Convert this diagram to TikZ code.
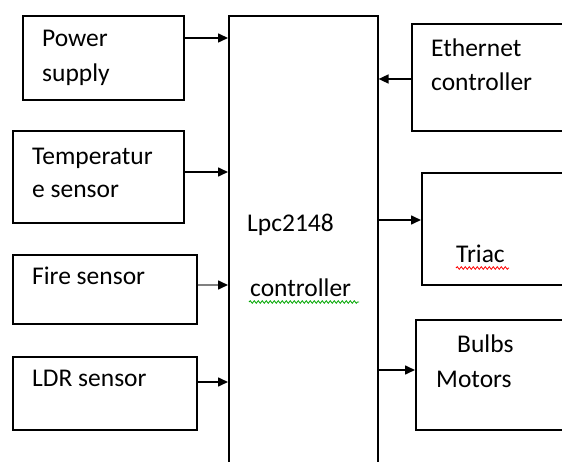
\documentclass[tikz,border=0pt]{standalone}
\usepackage{fontspec}
\setmainfont{Carlito}
\usetikzlibrary{arrows.meta}
\usetikzlibrary{decorations.pathmorphing}

\begin{document}
\begin{tikzpicture}[x=1pt, y=-1pt,
            blk/.style={draw=black, line width=1.6pt, anchor=north west, inner sep=0pt},
            txt/.style={anchor=base west, inner sep=0pt, font=\fontsize{25.5}{34}\selectfont},
            link/.style={line width=1.6pt, -{Triangle[length=10pt, width=9pt]}},
            squig/.style={decorate, decoration={snake, amplitude=1.3pt, segment length=4pt}, line width=0.8pt},
        ]
            \useasboundingbox (0,0) rectangle (562,462);
            \clip (0,0) rectangle (562,462);

            % controller in the middle, runs past the bottom edge
            \node[blk, minimum width=149pt, minimum height=480pt] (ctl) at (228,15) {};
            \node[txt] (ctl1) at (247,232) {Lpc2148};
            \node[txt] (ctl2) at (250,297) {controller};
            \draw[squig, draw=green!65!black] (249,302) -- (359,302);

            % inputs on the left
            \node[blk, minimum width=161pt, minimum height=84pt] (pwr) at (22,15) {};
            \node[blk, minimum width=171pt, minimum height=92pt] (temp) at (12,130) {};
            \node[blk, minimum width=184pt, minimum height=69pt] (fire) at (12,254) {};
            \node[blk, minimum width=184pt, minimum height=73pt] (ldr) at (12,356) {};
            \node[txt] (pwr1) at (42,47) {Power};
            \node[txt] (pwr2) at (42,82) {supply};
            \node[txt] (temp1) at (32,165) {Temperatur};
            \node[txt] (temp2) at (32,198) {e sensor};
            \node[txt] (fire1) at (32,284) {Fire sensor};
            \node[txt] (ldr1) at (32,386) {LDR sensor};

            % blocks on the right, cut by the right edge
            \node[blk, minimum width=200pt, minimum height=107pt] (eth) at (411,23) {};
            \node[blk, minimum width=200pt, minimum height=112pt] (triac) at (421,172) {};
            \node[blk, minimum width=200pt, minimum height=110pt] (load) at (415,319) {};
            \node[txt] (eth1) at (431,57) {Ethernet};
            \node[txt] (eth2) at (431,91) {controller};
            \node[txt] (triac1) at (456,263) {Triac};
            \draw[squig, draw=red] (456,268) -- (509,268);
            \node[txt] (load1) at (457,352) {Bulbs};
            \node[txt] (load2) at (436,387) {Motors};

            % arrows into and out of the controller
            \draw[link] (pwr.east |- 0,38) -- (ctl.west |- 0,38);
            \draw[link] (temp.east |- 0,172) -- (ctl.west |- 0,172);
            \draw[link, draw=gray, -{Triangle[length=10pt, width=9pt, color=black]}] (fire.east |- 0,285) -- (ctl.west |- 0,285);
            \draw[link] (ldr.east |- 0,382) -- (ctl.west |- 0,382);
            \draw[link] (eth.west |- 0,79) -- (ctl.east |- 0,79);
            \draw[link] (ctl.east |- 0,220) -- (triac.west |- 0,220);
            \draw[link] (ctl.east |- 0,370) -- (load.west |- 0,370);
        \end{tikzpicture}
\end{document}
